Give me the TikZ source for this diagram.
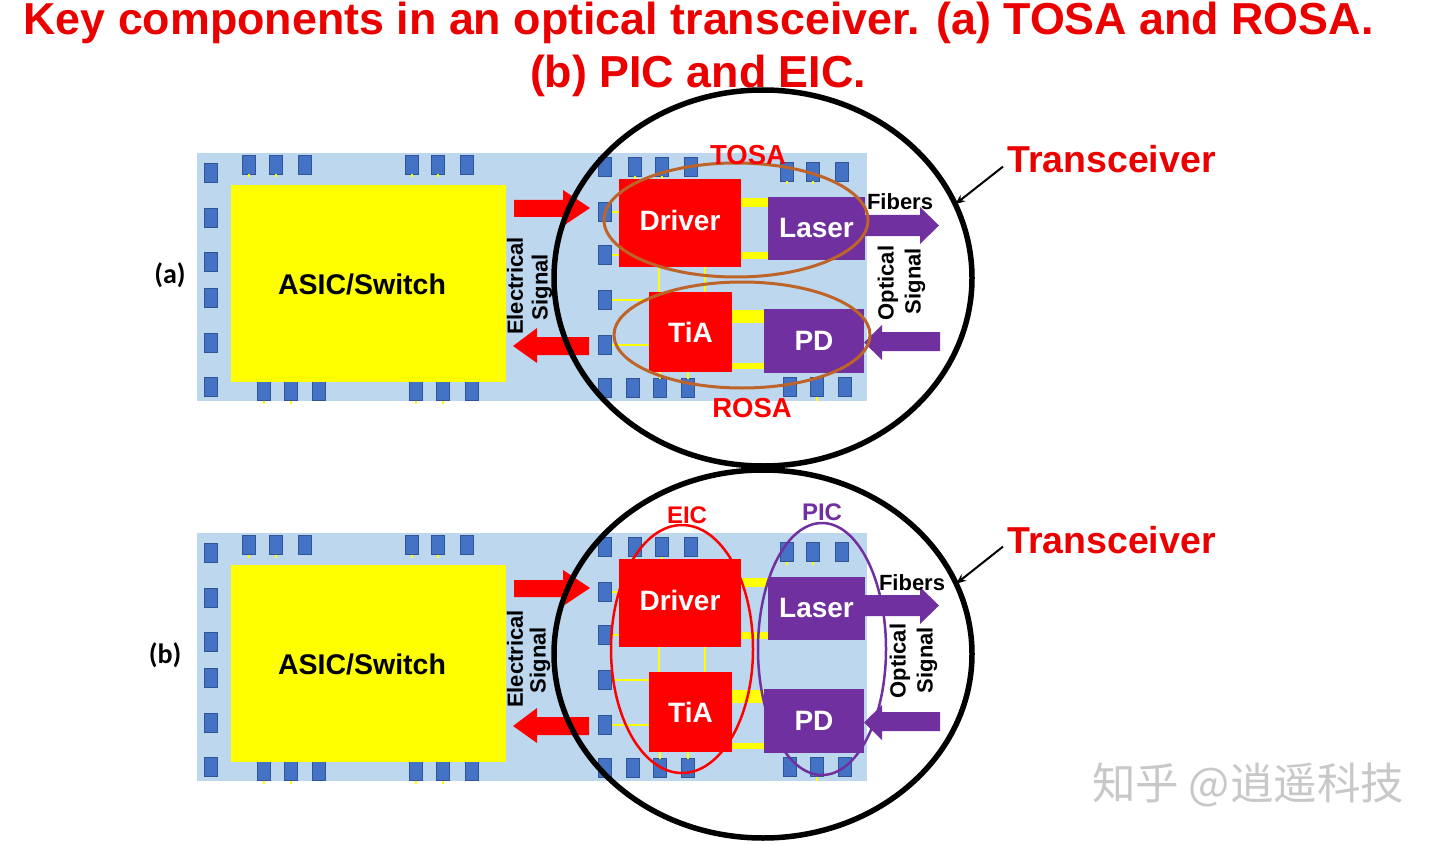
\documentclass[tikz,border=0pt]{standalone}
\usepackage{fontspec}
\setmainfont{Liberation Sans}
\newfontfamily\cjkfont{Noto Sans CJK SC}
\newfontfamily\calibfont{Carlito}
\usetikzlibrary{shapes.geometric,arrows.meta}
\definecolor{boardblue}{RGB}{189,215,238}
\definecolor{padblue}{RGB}{68,114,196}
\definecolor{padedge}{RGB}{47,85,151}
\definecolor{chipred}{RGB}{255,0,0}
\definecolor{chippurple}{RGB}{112,48,160}
\definecolor{chipyellow}{RGB}{255,255,0}
\definecolor{brownring}{RGB}{190,100,40}
\definecolor{titlered}{RGB}{235,0,0}
\definecolor{wmgray}{RGB}{200,200,200}
\newcommand\fsz[1]{\fontsize{#1pt}{#1pt}\selectfont}
\tikzset{
  box/.style={rectangle, inner sep=0pt, outer sep=0pt},
  board/.style={box, fill=boardblue},
  pad/.style={box, fill=padblue, draw=padedge, line width=0.8pt, minimum width=13pt, minimum height=19pt},
  asicbox/.style={box, fill=chipyellow},
  redchip/.style={box, fill=chipred, text=white, font={\fsz{28}\bfseries}},
  purchip/.style={box, fill=chippurple, text=white, font={\fsz{28}\bfseries}},
  bus/.style={chipyellow},
  wire/.style={chipyellow, line width=1.3pt},
  redarrow/.style={fill=chipred},
  purarrow/.style={fill=chippurple},
  sidetxt/.style={inner sep=0pt, rotate=90, font={\fsz{22}\bfseries}},
  ring/.style={ellipse, draw, inner sep=0pt, outer sep=0pt},
  bigcircle/.style={ring, draw=black, line width=5.5pt},
  trlabel/.style={inner sep=0pt, anchor=base west, text=titlered, font={\fsz{37.5}\bfseries}},
  trarrow/.style={-{Stealth[length=10pt,width=8pt]}, line width=2pt},
  tag/.style={inner sep=0pt, font={\fsz{28}\calibfont\bfseries}},
}
\newcommand\panelbody[1]{%
  \node[board, minimum width=670pt, minimum height=248pt] (board#1) at (532,277) {};
  \foreach \y [count=\i] in {173,218,262,298,343,387}
    \node[pad] (pl#1\i) at (210.5,\y) {};
  \foreach \x [count=\i] in {249,276,305,412,438,467}
    \node[pad] (pt#1\i) at (\x,165) {};
  \foreach \x [count=\i] in {264,291,319,416,443,472}
    \node[pad] (pb#1\i) at (\x,391) {};
  \foreach \y [count=\i] in {167,212,255,300,345,388}
    \node[pad] (pi#1\i) at (605,\y) {};
  \foreach \x/\y [count=\i] in {635/167,662/167,691/167,787/172,813/172,842/172}
    \node[pad] (pr#1\i) at (\x,\y) {};
  \foreach \x/\y [count=\i] in {633/388,660/388,688/388,790/387,817/387,845/387}
    \node[pad] (ps#1\i) at (\x,\y) {};
  \foreach \i in {1,2,4,5} {
    \draw[wire] (pt#1\i.south) -- ++(0,3);
    \draw[wire] (pb#1\i.south) -- ++(0,3);
  }
  \draw[wire] (pr#14.south) -- ++(0,3);
  \draw[wire] (pr#15.south) -- ++(0,3);
  \draw[wire] (ps#15.south) -- ++(0,4);
  \node[asicbox, minimum width=275pt, minimum height=197pt] (asic#1) at (368.5,283.5) {};
  \node[inner sep=0pt, font={\fsz{28.5}\bfseries}] (asictext#1) at (362,284) {ASIC/Switch};
  \node[redchip, minimum width=122pt, minimum height=88pt] (driver#1) at (680,223) {\raisebox{5pt}{Driver}};
  \node[purchip, minimum width=97pt, minimum height=63pt] (laser#1) at (816.5,228.5) {Laser};
  \node[redchip, minimum width=83pt, minimum height=80pt] (tia#1) at (690.5,332) {TiA};
  \node[purchip, minimum width=100pt, minimum height=64pt] (pd#1) at (814,341) {PD};
  \draw[wire] (driver#1.south -| 659,0) -- (tia#1.north -| 659,0);
  \draw[wire] (driver#1.south -| 705,0) -- (tia#1.north -| 705,0);
  \draw[wire] (pi#12.east) -- (driver#1.west |- pi#12.east);
  \draw[wire] (pi#13.east) -- (driver#1.west |- pi#13.east);
  \draw[wire] (pi#14.east) -- (tia#1.west |- pi#14.east);
  \draw[wire] (pi#15.east) -- (tia#1.west |- pi#15.east);
  \draw[wire] (pr#11.south) -- (driver#1.north -| pr#11.south);
  \draw[wire] (pr#12.south) -- (driver#1.north -| pr#12.south);
  \draw[wire] (tia#1.south -| ps#12.north) -- (ps#12.north);
  \draw[wire] (tia#1.south -| ps#13.north) -- (ps#13.north);
  \draw[bus, line width=9pt] (driver#1.east |- 0,202.5) -- (laser#1.west |- 0,202.5);
  \draw[bus, line width=7pt] (driver#1.east |- 0,255.5) -- (laser#1.west |- 0,255.5);
  \draw[bus, line width=13pt] (tia#1.east |- 0,316.5) -- (pd#1.west |- 0,316.5);
  \draw[bus, line width=6pt] (tia#1.east |- 0,366) -- (pd#1.west |- 0,366);
  \fill[redarrow] (514,200) -- (563,200) -- (563,190) -- (590,208) -- (563,226) -- (563,217) -- (514,217) -- cycle;
  \fill[redarrow] (589,337) -- (537,337) -- (537,328) -- (513,346) -- (537,363) -- (537,355) -- (589,355) -- cycle;
  \fill[purarrow] (laser#1.east |- 0,215) -- (920,215) -- (920,207) -- (939,225.5) -- (920,244) -- (920,236) -- (laser#1.east |- 0,236) -- cycle;
  \fill[purarrow] (940,332) -- (882,332) -- (882,325) -- (pd#1.east |- 0,342.5) -- (882,360) -- (882,351) -- (940,351) -- cycle;
}
\begin{document}
\begin{tikzpicture}[x=1pt,y=-1pt]
\useasboundingbox (0,0) rectangle (1440,845);
\fill[white] (0,0) rectangle (1440,845);
\node[inner sep=0pt, anchor=base, text=titlered, font={\fsz{44.8}\bfseries}] (title1) at (698.5,35) {Key components in an optical transceiver. (a) TOSA and ROSA.};
\node[inner sep=0pt, anchor=base, text=titlered, font={\fsz{44.8}\bfseries}] (title2) at (698,88) {(b) PIC and EIC.};
% ---------------- panel (a)
\begin{scope}
  \panelbody{a}
  \node[sidetxt] (elecA) at (515,286) {Electrical};
  \node[sidetxt] (sigA) at (542,287) {Signal};
  \node[inner sep=0pt, font={\fsz{22}\bfseries}] (fibA) at (900,202) {Fibers};
  \node[sidetxt] (optA) at (888,283) {Optical};
  \node[sidetxt] (osigA) at (915,281) {Signal};
  \node[ring, draw=brownring, line width=3pt, minimum width=264pt, minimum height=114pt] (tosa) at (736,220) {};
  \node[ring, draw=brownring, line width=3pt, minimum width=256pt, minimum height=106pt] (rosa) at (742,335) {};
  \node[inner sep=0pt, text=chipred, font={\fsz{27.5}\bfseries}] (tosalbl) at (748,155) {TOSA};
  \node[inner sep=0pt, text=chipred, font={\fsz{27.5}\bfseries}] (rosalbl) at (752,408) {ROSA};
  \node[bigcircle, minimum width=418pt, minimum height=376pt] (circA) at (763,278) {};
  \node[trlabel] (trA) at (1007,173) {Transceiver};
  \draw[trarrow] ([shift={(-4,7)}]trA.west) -- (circA.21);
  \node[tag] (tagA) at (170,275) {(a)};
\end{scope}
% ---------------- panel (b)
\begin{scope}[yshift=-380pt]
  \panelbody{b}
  \node[sidetxt] (elecB) at (515,279) {Electrical};
  \node[sidetxt] (sigB) at (540,280) {Signal};
  \node[inner sep=0pt, font={\fsz{22}\bfseries}] (fibB) at (912,203) {Fibers};
  \node[sidetxt] (optB) at (900,281) {Optical};
  \node[sidetxt] (osigB) at (927,280) {Signal};
  \node[ring, draw=chipred, line width=2.5pt, minimum width=142pt, minimum height=248pt] (eic) at (682,269) {};
  \node[ring, draw=chippurple, line width=2.5pt, minimum width=128pt, minimum height=252pt] (pic) at (822,269) {};
  \node[inner sep=0pt, text=chipred, font={\fsz{24}\bfseries}] (eiclbl) at (687,135) {EIC};
  \node[inner sep=0pt, text=chippurple, font={\fsz{24}\bfseries}] (piclbl) at (822,132) {PIC};
  \node[bigcircle, minimum width=418pt, minimum height=368pt] (circB) at (763,274) {};
  \node[trlabel] (trB) at (1007,173) {Transceiver};
  \draw[trarrow] ([shift={(-4,7)}]trB.west) -- (circB.20);
  \node[tag] (tagB) at (165,275) {(b)};
\end{scope}
\node[inner sep=0pt, anchor=west, text=wmgray, font={\fsz{43.5}\cjkfont}] (wm) at (1092,785) {知乎 @逍遥科技};
\end{tikzpicture}
\end{document}
